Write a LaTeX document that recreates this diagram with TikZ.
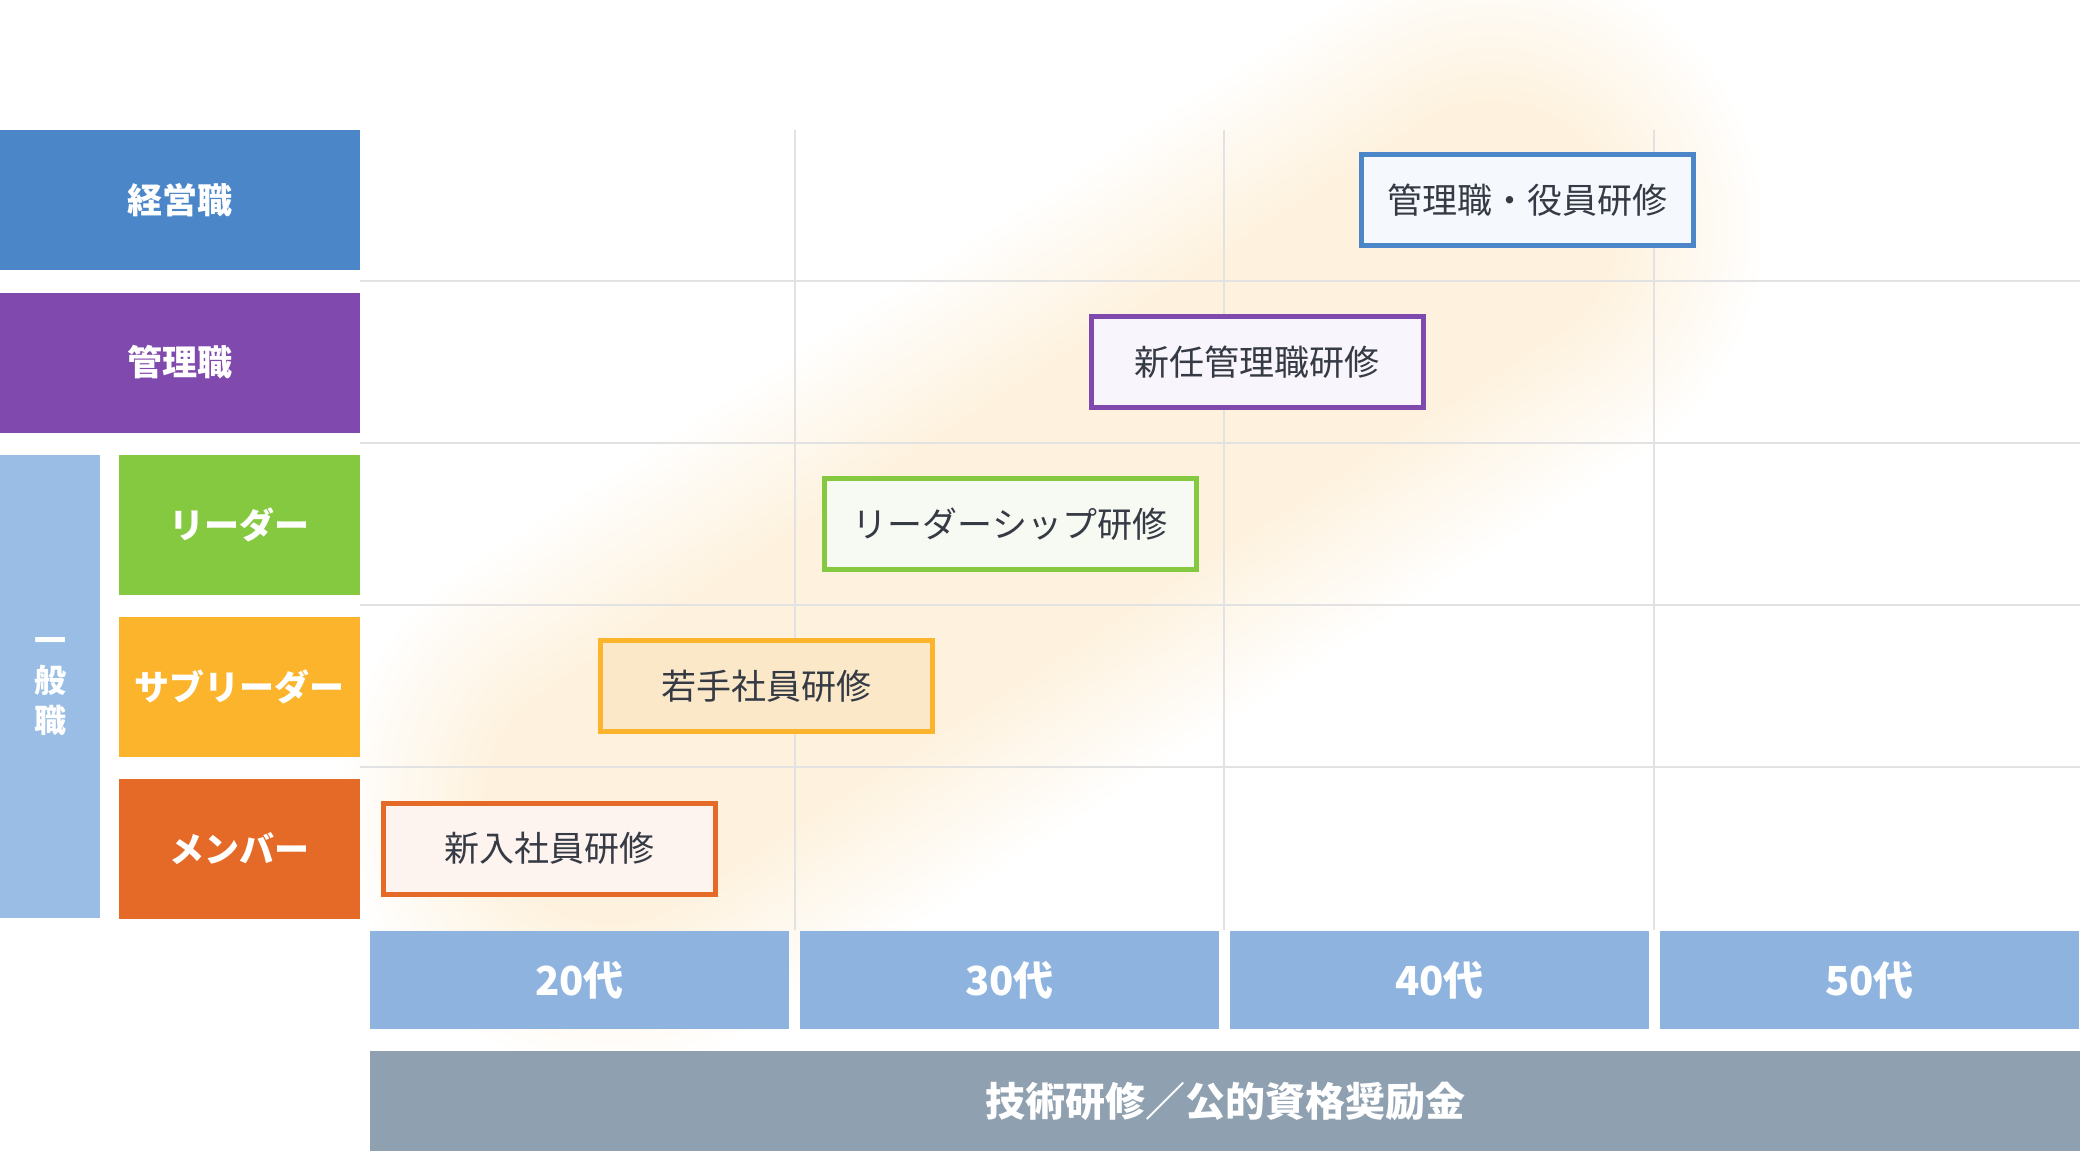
\documentclass[tikz,border=0pt]{standalone}
\usepackage{fontspec}
\setmainfont{Noto Sans CJK JP}
\definecolor{cKeiei}{HTML}{4A86C8}
\definecolor{cKanri}{HTML}{8049AE}
\definecolor{cIppan}{HTML}{99BDE4}
\definecolor{cLeader}{HTML}{85C940}
\definecolor{cSub}{HTML}{FBB42C}
\definecolor{cMember}{HTML}{E56A28}
\definecolor{cAge}{HTML}{8EB3DE}
\definecolor{cBar}{HTML}{8FA0B0}
\definecolor{cGrid}{HTML}{E2E2E2}
\definecolor{cText}{HTML}{353A44}
\definecolor{glowc}{HTML}{FEF2DE}
\definecolor{glowm}{HTML}{FEF8EE}
\definecolor{fKeiei}{HTML}{F5F9FE}
\definecolor{fKanri}{HTML}{F8F5FC}
\definecolor{fLeader}{HTML}{F7FAF3}
\definecolor{fSub}{HTML}{FAE8C8}
\definecolor{fMember}{HTML}{FDF3EF}
\pgfdeclareradialshading{glowshade}{\pgfpoint{0bp}{0bp}}{color(0bp)=(glowc); color(11bp)=(glowc); color(18bp)=(glowm); color(25bp)=(white); color(50bp)=(white)}
\begin{document}
\begin{tikzpicture}[x=0.5pt,y=-0.5pt,
  lbl/.style={inner sep=0pt, text=white, font=\fontsize{17.5pt}{20pt}\selectfont\bfseries},
  train/.style={line width=2.5pt, inner sep=0pt, minimum height=45.5pt, text=cText, font=\fontsize{17.5pt}{20pt}\selectfont},
  agebox/.style={fill=cAge, inner sep=0pt, minimum width=209.5pt, minimum height=49pt, text=white, font=\fontsize{20pt}{24pt}\selectfont\bfseries},
  gridline/.style={draw=cGrid, line width=1pt}]
\useasboundingbox (0,0) rectangle (2080,1150);
\fill[white] (0,0) rectangle (2080,1150);
% glow band
\begin{scope}[blend group=darken]
  \foreach \s in {60,85,...,1110}
    \shade[shading=glowshade] ({560+0.839*\s},{830-0.5437*\s}) circle (275);
\end{scope}
% grid
\foreach \y in {281,443,605,767} \draw[gridline] (360,\y) -- (2080,\y);
\foreach \x in {795,1224,1654} \draw[gridline] (\x,130) -- (\x,930);
% left labels
\node[lbl, fill=cKeiei, minimum width=180pt, minimum height=70pt] (keiei) at (180,200) {経営職};
\node[lbl, fill=cKanri, minimum width=180pt, minimum height=70pt] (kanri) at (180,362.5) {管理職};
\node[lbl, fill=cIppan, minimum width=50pt, minimum height=231.5pt, align=center, font=\fontsize{16pt}{20pt}\selectfont\bfseries] (ippan) at (50,686.5) {一\\般\\職};
\node[lbl, fill=cLeader, minimum width=120.5pt, minimum height=70pt] (leader) at (239.5,524.5) {リーダー};
\node[lbl, fill=cSub, minimum width=120.5pt, minimum height=70pt] (sub) at (239.5,686.5) {サブリーダー};
\node[lbl, fill=cMember, minimum width=120.5pt, minimum height=70pt] (member) at (239.5,848.5) {メンバー};
% trainings
\node[train, draw=cKeiei, fill=fKeiei, minimum width=166pt] (t1) at (1527,200) {管理職・役員研修};
\node[train, draw=cKanri, fill=fKanri, minimum width=166pt] (t2) at (1257,362) {新任管理職研修};
\node[train, draw=cLeader, fill=fLeader, minimum width=186pt] (t3) at (1010,524) {リーダーシップ研修};
\node[train, draw=cSub, fill=fSub, minimum width=166pt] (t4) at (766,686) {若手社員研修};
\node[train, draw=cMember, fill=fMember, minimum width=166pt] (t5) at (549.5,848.5) {新入社員研修};
% ages
\node[agebox] (a20) at (579.5,980) {20代};
\node[agebox] (a30) at (1009.5,980) {30代};
\node[agebox] (a40) at (1439.5,980) {40代};
\node[agebox] (a50) at (1869.5,980) {50代};
% bottom bar
\fill[cBar] (370,1051) rectangle (2080,1160);
\node[text=white, font=\fontsize{20pt}{24pt}\selectfont\bfseries] (bar) at (1225,1101) {技術研修／公的資格奨励金};
\end{tikzpicture}
\end{document}
